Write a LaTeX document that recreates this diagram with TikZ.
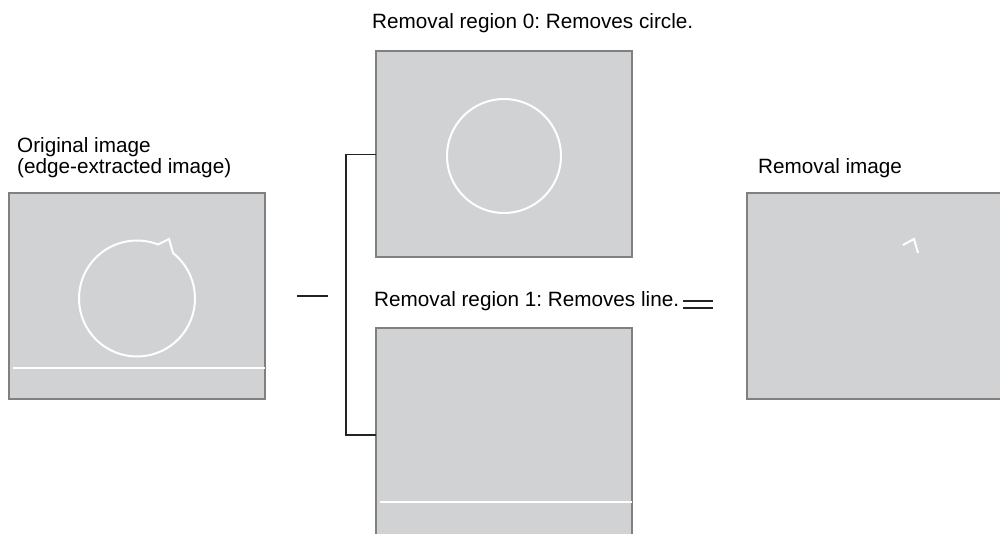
\documentclass[tikz,border=0pt]{standalone}
\usepackage{fontspec}
\setmainfont{Liberation Sans}
\usepackage{tikz}
\usetikzlibrary{positioning}
\definecolor{panel}{RGB}{209,210,212}
\definecolor{rim}{RGB}{128,128,128}
\definecolor{ink}{RGB}{35,35,35}
\tikzset{
  img/.style={draw=rim,fill=panel,line width=2pt,inner sep=0pt,outer sep=0pt,minimum width=256pt,minimum height=206pt},
  edg/.style={white,line width=2pt},
  brk/.style={ink,line width=1.5pt},
  lbl/.style={inner sep=0pt,font=\fontsize{20.7}{21}\selectfont\frenchspacing,align=left}
}

\begin{document}
\begin{tikzpicture}[x=1pt,y=1pt]
\useasboundingbox (0,0) rectangle (1000,534);
\clip (0,0) rectangle (1000,534);
% the four pictures
\node[img] (orig) at (136.5,237.5) {};
\node[img] (reg0) at (504,379.5) {};
\node[img,minimum height=214pt,anchor=north] (reg1) at (504,206) {};
\node[img] (rimg) at (875,237.5) {};
% edges seen in them
\coordinate (oc) at (137,235.5);
\draw[edg] ([shift={(51.6:58)}]oc) arc (51.6:-291.4:58) -- (169,295) -- cycle;
\draw[edg] (13,166) -- (orig.east |- 0,166);
\draw[edg] (504,378) circle (57);
\draw[edg] (380,32) -- (reg1.east |- 0,32);
\draw[edg] (903,289) -- (914,295) -- (918,281);
% labels
\node[lbl,anchor=base west] (t0) at (372,505) {Removal region 0: Removes circle.};
\node[lbl,anchor=base west] (t1) at (374,227) {Removal region 1: Removes line.};
\node[lbl,anchor=base west] (ta) at (17,360) {Original image\\(edge-extracted image)};
\node[lbl,anchor=base west] (tb) at (758,360) {Removal image};
% bracket and dashes
\draw[brk] (reg0.west) -- ++(-30,0) |- (reg1.west);
\coordinate (da) at (297,238);
\coordinate (db) at (328,238);
\draw[brk] (da) -- (db);
\coordinate (ea) at (683,233);
\coordinate (eb) at (713,233);
\draw[brk] (ea) -- (eb);
\draw[brk] ([yshift=-7pt]ea) -- ([yshift=-7pt]eb);
\end{tikzpicture}
\end{document}
